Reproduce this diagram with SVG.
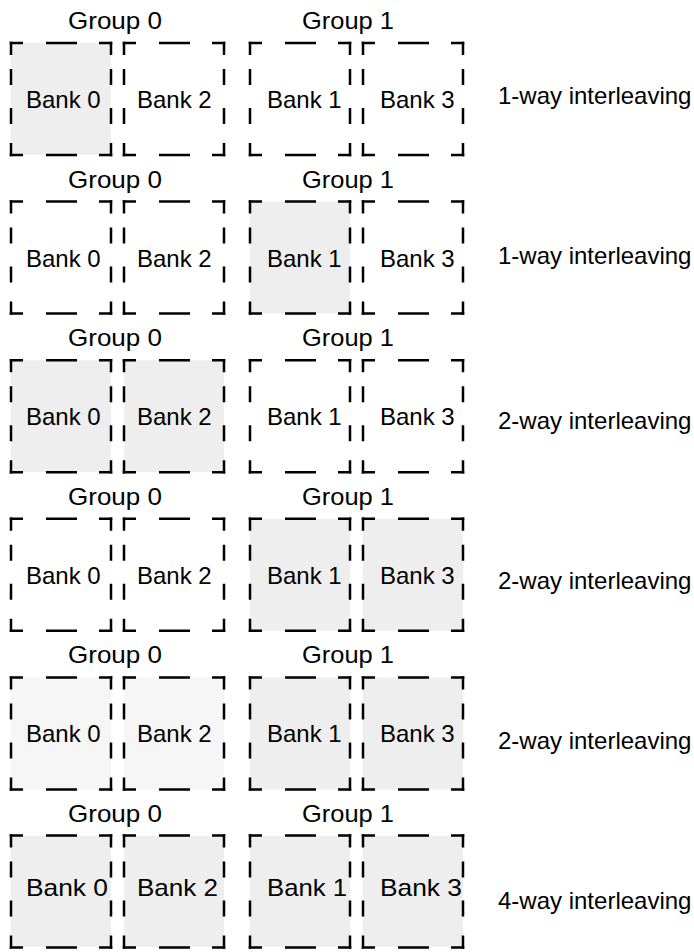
<svg xmlns="http://www.w3.org/2000/svg" xmlns:xlink="http://www.w3.org/1999/xlink" width="694" height="952" viewBox="0 0 694 952">
<style>
  .t{font-family:"Liberation Sans",Arial,Helvetica,sans-serif;font-size:24px;fill:#000}
  .fl{fill:#eeeeee}
  .fl2{fill:#f6f6f6}
  .e{stroke:#000;stroke-width:2.5;fill:none}
  .h{stroke-dasharray:13.25 23 31 22 13.25}
  .v{stroke-dasharray:13.25 14 16 23 16 19 13.25}
</style>
<defs>
  <g id="frame">
    <line class="e h" x1="-1.25" y1="0" x2="101.25" y2="0"/>
    <line class="e h" x1="-1.25" y1="112" x2="101.25" y2="112"/>
    <line class="e v" x1="0" y1="-1.25" x2="0" y2="113.25"/>
    <line class="e v" x1="100" y1="-1.25" x2="100" y2="113.25"/>
  </g>
</defs>
<rect width="694" height="952" fill="#fff"/>
<g id="connectors"/>

<!-- Row 1 -->
<g id="r1">
  <text id="r1-g0" class="t" x="68" y="29" textLength="94" lengthAdjust="spacingAndGlyphs">Group 0</text>
  <text id="r1-g1" class="t" x="302" y="29" textLength="92" lengthAdjust="spacingAndGlyphs">Group 1</text>
  <g id="r1-b0"><rect class="fl" x="11" y="43" width="100" height="112"/><use xlink:href="#frame" x="11" y="43"/><text class="t" x="26" y="108">Bank 0</text></g>
  <g id="r1-b2"><use xlink:href="#frame" x="124" y="43"/><text class="t" x="137" y="108">Bank 2</text></g>
  <g id="r1-b1"><use xlink:href="#frame" x="250" y="43"/><text class="t" x="267" y="108">Bank 1</text></g>
  <g id="r1-b3"><use xlink:href="#frame" x="363" y="43"/><text class="t" x="380" y="108">Bank 3</text></g>
  <text id="r1-lbl" class="t" x="498" y="103.5">1-way interleaving</text>
</g>

<!-- Row 2 -->
<g id="r2">
  <text id="r2-g0" class="t" x="68" y="187.6" textLength="94" lengthAdjust="spacingAndGlyphs">Group 0</text>
  <text id="r2-g1" class="t" x="302" y="187.6" textLength="92" lengthAdjust="spacingAndGlyphs">Group 1</text>
  <g id="r2-b0"><use xlink:href="#frame" x="11" y="201.6"/><text class="t" x="26" y="266.6">Bank 0</text></g>
  <g id="r2-b2"><use xlink:href="#frame" x="124" y="201.6"/><text class="t" x="137" y="266.6">Bank 2</text></g>
  <g id="r2-b1"><rect class="fl" x="250" y="201.6" width="100" height="112"/><use xlink:href="#frame" x="250" y="201.6"/><text class="t" x="267" y="266.6">Bank 1</text></g>
  <g id="r2-b3"><use xlink:href="#frame" x="363" y="201.6"/><text class="t" x="380" y="266.6">Bank 3</text></g>
  <text id="r2-lbl" class="t" x="498" y="263.5">1-way interleaving</text>
</g>

<!-- Row 3 -->
<g id="r3">
  <text id="r3-g0" class="t" x="68" y="346.2" textLength="94" lengthAdjust="spacingAndGlyphs">Group 0</text>
  <text id="r3-g1" class="t" x="302" y="346.2" textLength="92" lengthAdjust="spacingAndGlyphs">Group 1</text>
  <g id="r3-b0"><rect class="fl" x="11" y="360.2" width="100" height="112"/><use xlink:href="#frame" x="11" y="360.2"/><text class="t" x="26" y="425.2">Bank 0</text></g>
  <g id="r3-b2"><rect class="fl" x="124" y="360.2" width="100" height="112"/><use xlink:href="#frame" x="124" y="360.2"/><text class="t" x="137" y="425.2">Bank 2</text></g>
  <g id="r3-b1"><use xlink:href="#frame" x="250" y="360.2"/><text class="t" x="267" y="425.2">Bank 1</text></g>
  <g id="r3-b3"><use xlink:href="#frame" x="363" y="360.2"/><text class="t" x="380" y="425.2">Bank 3</text></g>
  <text id="r3-lbl" class="t" x="498" y="428.5">2-way interleaving</text>
</g>

<!-- Row 4 -->
<g id="r4">
  <text id="r4-g0" class="t" x="68" y="504.8" textLength="94" lengthAdjust="spacingAndGlyphs">Group 0</text>
  <text id="r4-g1" class="t" x="302" y="504.8" textLength="92" lengthAdjust="spacingAndGlyphs">Group 1</text>
  <g id="r4-b0"><use xlink:href="#frame" x="11" y="518.8"/><text class="t" x="26" y="583.8">Bank 0</text></g>
  <g id="r4-b2"><use xlink:href="#frame" x="124" y="518.8"/><text class="t" x="137" y="583.8">Bank 2</text></g>
  <g id="r4-b1"><rect class="fl" x="250" y="518.8" width="100" height="112"/><use xlink:href="#frame" x="250" y="518.8"/><text class="t" x="267" y="583.8">Bank 1</text></g>
  <g id="r4-b3"><rect class="fl" x="363" y="518.8" width="100" height="112"/><use xlink:href="#frame" x="363" y="518.8"/><text class="t" x="380" y="583.8">Bank 3</text></g>
  <text id="r4-lbl" class="t" x="498" y="588.5">2-way interleaving</text>
</g>

<!-- Row 5 -->
<g id="r5">
  <text id="r5-g0" class="t" x="68" y="663.4" textLength="94" lengthAdjust="spacingAndGlyphs">Group 0</text>
  <text id="r5-g1" class="t" x="302" y="663.4" textLength="92" lengthAdjust="spacingAndGlyphs">Group 1</text>
  <g id="r5-b0"><rect class="fl2" x="11" y="677.4" width="100" height="112"/><use xlink:href="#frame" x="11" y="677.4"/><text class="t" x="26" y="742.4">Bank 0</text></g>
  <g id="r5-b2"><rect class="fl2" x="124" y="677.4" width="100" height="112"/><use xlink:href="#frame" x="124" y="677.4"/><text class="t" x="137" y="742.4">Bank 2</text></g>
  <g id="r5-b1"><rect class="fl" x="250" y="677.4" width="100" height="112"/><use xlink:href="#frame" x="250" y="677.4"/><text class="t" x="267" y="742.4">Bank 1</text></g>
  <g id="r5-b3"><rect class="fl" x="363" y="677.4" width="100" height="112"/><use xlink:href="#frame" x="363" y="677.4"/><text class="t" x="380" y="742.4">Bank 3</text></g>
  <text id="r5-lbl" class="t" x="498" y="748.5">2-way interleaving</text>
</g>

<!-- Row 6 -->
<g id="r6">
  <text id="r6-g0" class="t" x="68" y="822" textLength="94" lengthAdjust="spacingAndGlyphs">Group 0</text>
  <text id="r6-g1" class="t" x="302" y="822" textLength="92" lengthAdjust="spacingAndGlyphs">Group 1</text>
  <g id="r6-b0"><rect class="fl" x="11" y="836" width="100" height="111"/><use xlink:href="#frame" x="11" y="835.5"/><text class="t" x="26" y="896" textLength="82" lengthAdjust="spacingAndGlyphs">Bank 0</text></g>
  <g id="r6-b2"><rect class="fl" x="124" y="836" width="100" height="111"/><use xlink:href="#frame" x="124" y="835.5"/><text class="t" x="137" y="896" textLength="81" lengthAdjust="spacingAndGlyphs">Bank 2</text></g>
  <g id="r6-b1"><rect class="fl" x="250" y="836" width="100" height="111"/><use xlink:href="#frame" x="250" y="835.5"/><text class="t" x="267" y="896" textLength="80" lengthAdjust="spacingAndGlyphs">Bank 1</text></g>
  <g id="r6-b3"><rect class="fl" x="363" y="836" width="100" height="111"/><use xlink:href="#frame" x="363" y="835.5"/><text class="t" x="380" y="896" textLength="82" lengthAdjust="spacingAndGlyphs">Bank 3</text></g>
  <text id="r6-lbl" class="t" x="498" y="909">4-way interleaving</text>
</g>
</svg>
